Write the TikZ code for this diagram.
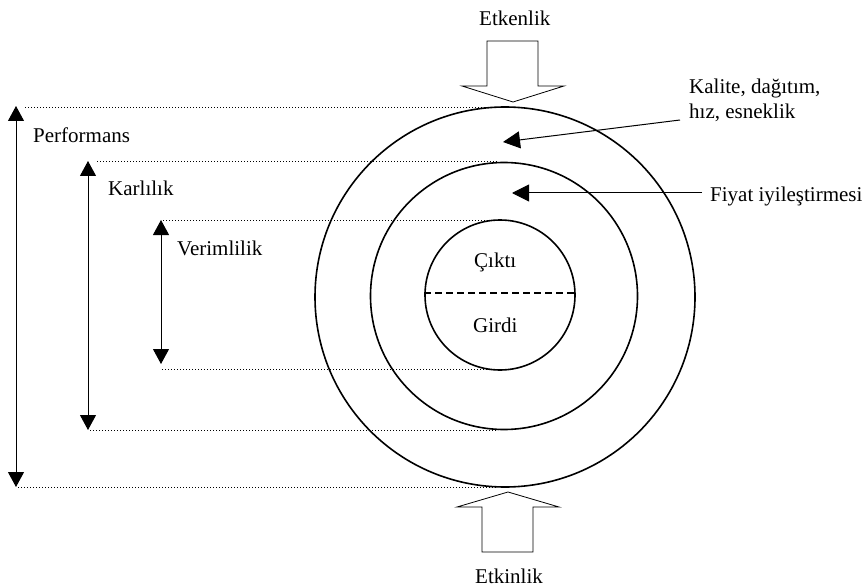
\documentclass[tikz,border=0pt]{standalone}
\usepackage{fontspec}
\setmainfont{Liberation Serif}
\usetikzlibrary{arrows.meta}
\begin{document}
\begin{tikzpicture}[x=1pt,y=-1pt,
  ring/.style={circle,draw,line width=1.6pt,inner sep=0pt},
  lbl/.style={inner sep=0pt,anchor=base west,font=\fontsize{21}{25}\selectfont},
  dimarrow/.style={line width=1pt,{Triangle[length=15pt,width=16pt]}-{Triangle[length=15pt,width=16pt]}},
  pointer/.style={line width=1pt,-{Triangle[length=17pt,width=17pt]}},
  guide/.style={line width=0.9pt,dash pattern=on 0.9pt off 2.1pt},
  blockarrow/.style={draw,line width=0.8pt,fill=white}]
\useasboundingbox (0,0) rectangle (867,588);

% concentric rings
\node[ring,minimum size=380pt] (outer) at (505,297) {};
\node[ring,minimum size=267pt] (middle) at (504,296) {};
\node[ring,minimum size=150pt] (inner) at (500,295) {};
\draw[line width=1.4pt,dash pattern=on 7pt off 4pt] (inner.west |- 0,293) -- (inner.east |- 0,293);
\node[lbl] (cikti) at (474,267) {Çıktı};
\node[lbl] (girdi) at (473,332) {Girdi};

% block arrows
\draw[blockarrow] (487,41) -- (538,41) -- (538,86) -- (564,86) -- (513,102)
  -- (462,86) -- (487,86) -- cycle;
\node[lbl] (etkenlik) at (479,26) {Etkenlik};
\draw[blockarrow] (482,552) -- (533,552) -- (533,507) -- (559,507) -- (508,492)
  -- (457,507) -- (482,507) -- cycle;
\node[lbl] (etkinlik) at (475,583) {Etkinlik};

% levels on the left
\coordinate (pT) at (16,106);
\coordinate (pB) at (16,487);
\coordinate (kT) at (88,161);
\coordinate (kB) at (88,430);
\coordinate (vT) at (161,220);
\coordinate (vB) at (161,364);
\coordinate (gP1) at (497,107);
\coordinate (gP2) at (497,487);
\coordinate (gK1) at (498,161);
\coordinate (gK2) at (498,430);
\coordinate (gV1) at (497,220);
\coordinate (gV0) at (162,369);
\coordinate (gV2) at (497,369);

\draw[dimarrow] (pT) -- (pB);
\draw[dimarrow] (kT) -- (kB);
\draw[dimarrow] (vT) -- (vB);
\draw[guide] ([xshift=9pt]pT |- gP1) -- (gP1);
\draw[guide] ([xshift=2pt]pB) -- (gP2);
\draw[guide] ([xshift=9pt]kT) -- (gK1);
\draw[guide] ([xshift=2pt]kB) -- (gK2);
\draw[guide] ([xshift=2pt]vT) -- (gV1);
\draw[guide] (gV0) -- (gV2);

\node[lbl] (perf) at (33,143) {Performans};
\node[lbl] (karl) at (108,196) {Karlılık};
\node[lbl] (verim) at (177,255) {Verimlilik};

% labels on the right
\node[lbl,align=left,anchor=base west] (kalite) at (689,119)
  {Kalite, dağıtım,\\hız, esneklik};
\node[lbl] (fiyat) at (710,201) {Fiyat iyileştirmesi};
\coordinate (kaliteEnd) at (680,120);
\coordinate (kaliteTip) at (503,142);
\coordinate (fiyatEnd) at (702,193);
\coordinate (fiyatTip) at (512,193);
\draw[pointer] (kaliteEnd) -- (kaliteTip);
\draw[pointer] (fiyatEnd) -- (fiyatTip);
\end{tikzpicture}
\end{document}
